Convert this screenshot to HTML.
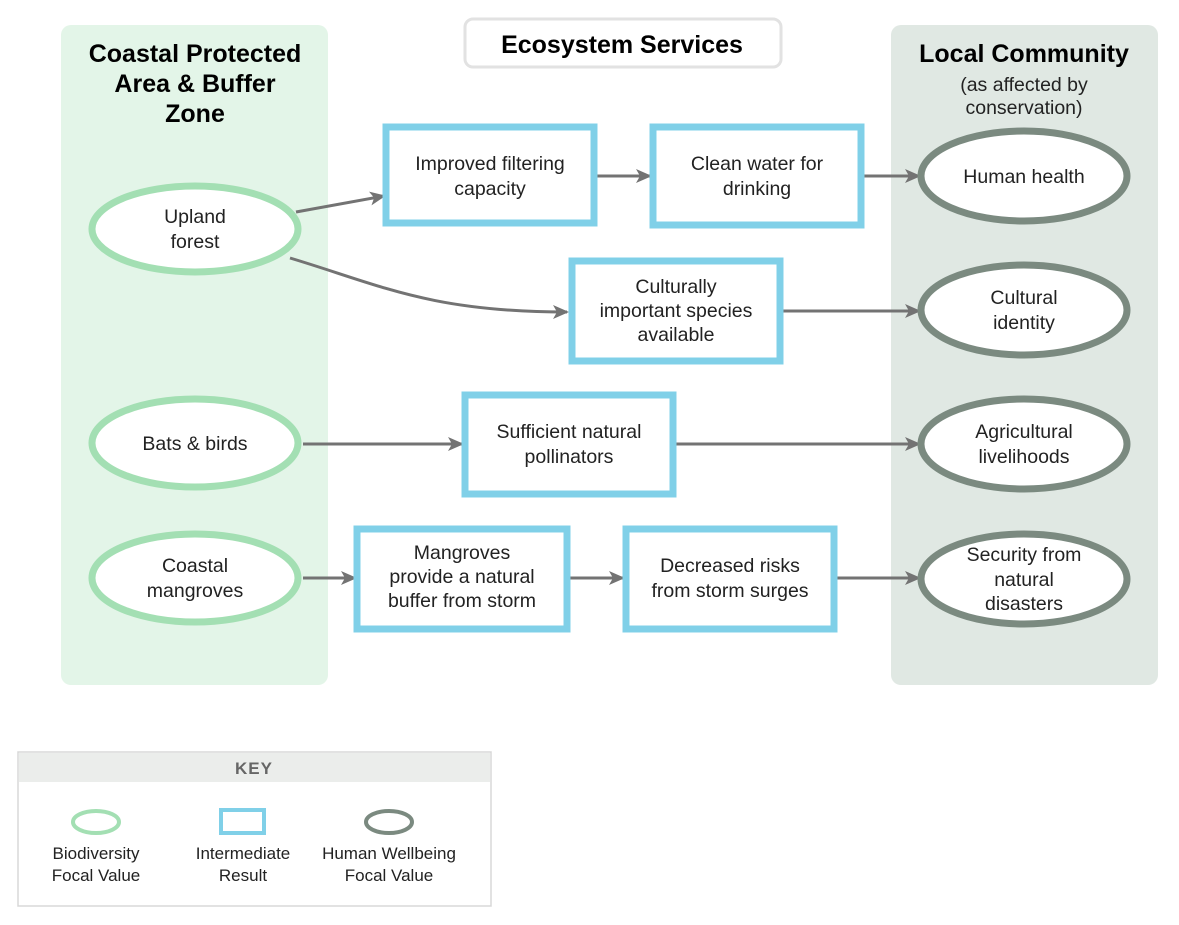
<!DOCTYPE html>
<html><head><meta charset="utf-8"><style>
body{margin:0;background:#fff}
svg{display:block}
text{font-family:"Liberation Sans",Arial,sans-serif;fill:#222}
.n{font-size:19.5px;text-anchor:middle}
.t{font-size:25px;font-weight:bold;text-anchor:middle;fill:#000}
.k{font-size:17px;text-anchor:middle}
.g{fill:#fff;stroke:#a3dfb3;stroke-width:7}
.h{fill:#fff;stroke:#7b8a80;stroke-width:7}
.b{fill:#fff;stroke:#80d0e8;stroke-width:7}
.a{fill:none;stroke:#737373;stroke-width:3}
</style></head><body>
<svg width="1179" height="925" viewBox="0 0 1179 925">
<defs><marker id="m" markerWidth="16" markerHeight="16" refX="14" refY="8" orient="auto" markerUnits="userSpaceOnUse">
<path d="M0,1 L16,8 L0,15 L4,8 Z" fill="#737373"/></marker></defs>
<rect x="61" y="25" width="267" height="660" rx="10" fill="#e3f5e8"/>
<rect x="891" y="25" width="267" height="660" rx="10" fill="#e0e8e3"/>
<rect x="465" y="19" width="316" height="48" rx="8" fill="#fff" stroke="#e2e2e2" stroke-width="3"/>
<text class="t" x="622" y="53">Ecosystem Services</text>
<text class="t" x="195" y="62">Coastal Protected</text>
<text class="t" x="195" y="92">Area &amp; Buffer</text>
<text class="t" x="195" y="122">Zone</text>
<text class="t" x="1024" y="62">Local Community</text>
<text class="n" x="1024" y="91">(as affected by</text>
<text class="n" x="1024" y="114">conservation)</text>

<path class="a" d="M296,212 L384,196" marker-end="url(#m)"/>
<path class="a" d="M290,258 C380,285 430,312 567,312" marker-end="url(#m)"/>
<path class="a" d="M597,176 L650,176" marker-end="url(#m)"/>
<path class="a" d="M864,176 L919,176" marker-end="url(#m)"/>
<path class="a" d="M783,311 L919,311" marker-end="url(#m)"/>
<path class="a" d="M303,444 L462,444" marker-end="url(#m)"/>
<path class="a" d="M676,444 L919,444" marker-end="url(#m)"/>
<path class="a" d="M303,578 L355,578" marker-end="url(#m)"/>
<path class="a" d="M570,578 L623,578" marker-end="url(#m)"/>
<path class="a" d="M837,578 L919,578" marker-end="url(#m)"/>

<ellipse class="g" cx="195" cy="229" rx="103" ry="43"/>
<text class="n" x="195" y="223">Upland</text><text class="n" x="195" y="248">forest</text>
<ellipse class="g" cx="195" cy="443" rx="103" ry="44"/>
<text class="n" x="195" y="450">Bats &amp; birds</text>
<ellipse class="g" cx="195" cy="578" rx="103" ry="44"/>
<text class="n" x="195" y="572">Coastal</text><text class="n" x="195" y="597">mangroves</text>

<ellipse class="h" cx="1024" cy="176" rx="103" ry="45"/>
<text class="n" x="1024" y="183">Human health</text>
<ellipse class="h" cx="1024" cy="310" rx="103" ry="45"/>
<text class="n" x="1024" y="304">Cultural</text><text class="n" x="1024" y="329">identity</text>
<ellipse class="h" cx="1024" cy="444" rx="103" ry="45"/>
<text class="n" x="1024" y="438">Agricultural</text><text class="n" x="1024" y="463">livelihoods</text>
<ellipse class="h" cx="1024" cy="579" rx="103" ry="45"/>
<text class="n" x="1024" y="561">Security from</text><text class="n" x="1024" y="586">natural</text><text class="n" x="1024" y="610">disasters</text>

<rect class="b" x="386" y="127" width="208" height="96"/>
<text class="n" x="490" y="170">Improved filtering</text><text class="n" x="490" y="195">capacity</text>
<rect class="b" x="653" y="127" width="208" height="98"/>
<text class="n" x="757" y="170">Clean water for</text><text class="n" x="757" y="195">drinking</text>
<rect class="b" x="572" y="261" width="208" height="100"/>
<text class="n" x="676" y="293">Culturally</text><text class="n" x="676" y="317">important species</text><text class="n" x="676" y="341">available</text>
<rect class="b" x="465" y="395" width="208" height="99"/>
<text class="n" x="569" y="438">Sufficient natural</text><text class="n" x="569" y="463">pollinators</text>
<rect class="b" x="357" y="529" width="210" height="100"/>
<text class="n" x="462" y="559">Mangroves</text><text class="n" x="462" y="583">provide a natural</text><text class="n" x="462" y="607">buffer from storm</text>
<rect class="b" x="626" y="529" width="208" height="100"/>
<text class="n" x="730" y="572">Decreased risks</text><text class="n" x="730" y="597">from storm surges</text>

<rect x="18" y="752" width="473" height="154" fill="#fff" stroke="#d8d8d8" stroke-width="1.5"/>
<rect x="19" y="753" width="471" height="29" fill="#ebedeb"/>
<text x="254" y="774" style="font-size:17px;font-weight:bold;fill:#666;text-anchor:middle;letter-spacing:1px">KEY</text>
<ellipse cx="96" cy="822" rx="23" ry="11" fill="#fff" stroke="#a3dfb3" stroke-width="4"/>
<rect x="221" y="810" width="43" height="23" fill="#fff" stroke="#80d0e8" stroke-width="4"/>
<ellipse cx="389" cy="822" rx="23" ry="11" fill="#fff" stroke="#7b8a80" stroke-width="4"/>
<text class="k" x="96" y="859">Biodiversity</text><text class="k" x="96" y="881">Focal Value</text>
<text class="k" x="243" y="859">Intermediate</text><text class="k" x="243" y="881">Result</text>
<text class="k" x="389" y="859">Human Wellbeing</text><text class="k" x="389" y="881">Focal Value</text>
</svg>
</body></html>
